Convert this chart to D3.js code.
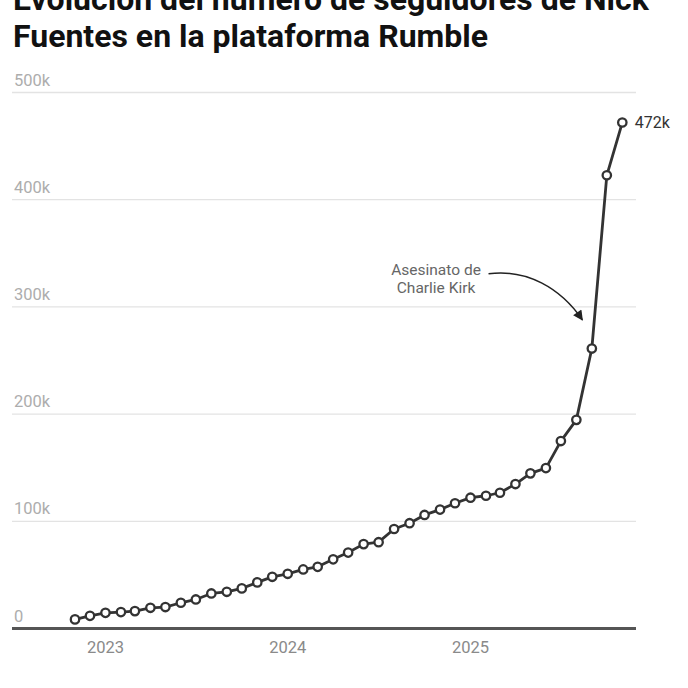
<!DOCTYPE html>
<html>
<head>
<meta charset="utf-8">
<script src="https://cdn.jsdelivr.net/npm/d3@7"></script>
<style>
  html, body { margin: 0; padding: 0; background: #fff; }
  svg { display: block; font-family: Roboto, "Noto Sans", sans-serif; }
</style>
</head>
<body>
<svg id="chart" width="688" height="688"></svg>
<script>
// ---- data ----
const titleLines = ["Evolución del número de seguidores de Nick", "Fuentes en la plataforma Rumble"];
const months = [
  "2022-11","2022-12",
  "2023-01","2023-02","2023-03","2023-04","2023-05","2023-06","2023-07","2023-08","2023-09","2023-10","2023-11","2023-12",
  "2024-01","2024-02","2024-03","2024-04","2024-05","2024-06","2024-07","2024-08","2024-09","2024-10","2024-11","2024-12",
  "2025-01","2025-02","2025-03","2025-04","2025-05","2025-06","2025-07","2025-08","2025-09","2025-10","2025-11"
];
const followers = [
  8600, 11900,
  14700, 15400, 16300, 19400, 20100, 24100, 27200, 32800, 34300, 37500, 43100, 48300,
  51100, 55200, 57600, 64600, 70900, 78800, 80600, 92900, 98300, 106000, 111000, 116900,
  122100, 123900, 126700, 134800, 144800, 149700, 174900, 194700, 261200, 422800, 472000
];
const yTicks = [0, 100000, 200000, 300000, 400000, 500000];
const yTickLabels = ["0", "100k", "200k", "300k", "400k", "500k"];
const xTicks = ["2023-01", "2024-01", "2025-01"];
const xTickLabels = ["2023", "2024", "2025"];
const endLabel = "472k";
const annotationLines = ["Asesinato de", "Charlie Kirk"];

// ---- layout ----
const parse = d3.timeParse("%Y-%m");
const data = months.map((m, i) => ({ date: parse(m), value: followers[i] }));

const svg = d3.select("#chart");
const plotLeft = 12, plotRight = 636;
const x = d3.scaleTime()
  .domain([parse("2022-11"), parse("2025-11")])
  .range([75, 622.3]);
const y = d3.scaleLinear()
  .domain([0, 500000])
  .range([628.6, 92.5]);

// title
const title = svg.append("text")
  .attr("x", 13)
  .attr("y", 10)
  .attr("font-size", 32)
  .attr("font-weight", 700)
  .attr("fill", "#111");
titleLines.forEach((t, i) => {
  title.append("tspan").attr("x", 13).attr("dy", i === 0 ? 0 : 37).text(t);
});

// gridlines + y labels
const grid = svg.append("g");
yTicks.forEach((v, i) => {
  if (v !== 0) {
    grid.append("line")
      .attr("x1", plotLeft).attr("x2", plotRight)
      .attr("y1", y(v)).attr("y2", y(v))
      .attr("stroke", "#e3e3e3").attr("stroke-width", 1.3);
  }
  grid.append("text")
    .attr("x", plotLeft + 2)
    .attr("y", y(v) - 7)
    .attr("font-size", 16.5)
    .attr("fill", "#adadad")
    .text(yTickLabels[i]);
});

// x axis
svg.append("line")
  .attr("x1", plotLeft).attr("x2", plotRight)
  .attr("y1", y(0)).attr("y2", y(0))
  .attr("stroke", "#555").attr("stroke-width", 3);

xTicks.forEach((t, i) => {
  svg.append("text")
    .attr("x", x(parse(t)))
    .attr("y", y(0) + 24.5)
    .attr("text-anchor", "middle")
    .attr("font-size", 16.5)
    .attr("fill", "#8a8a8a")
    .text(xTickLabels[i]);
});

// line
const line = d3.line().x(d => x(d.date)).y(d => y(d.value));
svg.append("path")
  .datum(data)
  .attr("d", line)
  .attr("fill", "none")
  .attr("stroke", "#333")
  .attr("stroke-width", 2.8)
  .attr("stroke-linejoin", "round");

svg.append("g").selectAll("circle")
  .data(data)
  .join("circle")
  .attr("cx", d => x(d.date))
  .attr("cy", d => y(d.value))
  .attr("r", 4.2)
  .attr("fill", "#fff")
  .attr("stroke", "#333")
  .attr("stroke-width", 2.3);

// end label
const last = data[data.length - 1];
svg.append("text")
  .attr("x", x(last.date) + 12.5)
  .attr("y", y(last.value) + 5.5)
  .attr("font-size", 16)
  .attr("fill", "#333")
  .text(endLabel);

// annotation
const annX = x(parse("2024-11")) - 4;
const annY = y(330000);
const ann = svg.append("text")
  .attr("text-anchor", "middle")
  .attr("font-size", 15.5)
  .attr("fill", "#666");
annotationLines.forEach((t, i) => {
  ann.append("tspan").attr("x", annX).attr("y", annY + i * 18.3).text(t);
});

svg.append("defs").append("marker")
  .attr("id", "arrow")
  .attr("viewBox", "0 0 10 10")
  .attr("refX", 9).attr("refY", 5)
  .attr("markerWidth", 12).attr("markerHeight", 10)
  .attr("markerUnits", "userSpaceOnUse")
  .attr("orient", "auto")
  .append("path")
  .attr("d", "M0,0 L10,5 L0,10 Z")
  .attr("fill", "#222");

const sx = annX + 52.5, sy = annY - 1;
const ex = x(parse("2025-08")) + 6, ey = y(288000);
const p = d3.path();
p.moveTo(sx, sy);
p.bezierCurveTo(sx + 38, sy - 5, ex - 22, ey - 32, ex, ey);
svg.append("path")
  .attr("d", p.toString())
  .attr("fill", "none")
  .attr("stroke", "#222")
  .attr("stroke-width", 1.5)
  .attr("marker-end", "url(#arrow)");
</script>
</body>
</html>
